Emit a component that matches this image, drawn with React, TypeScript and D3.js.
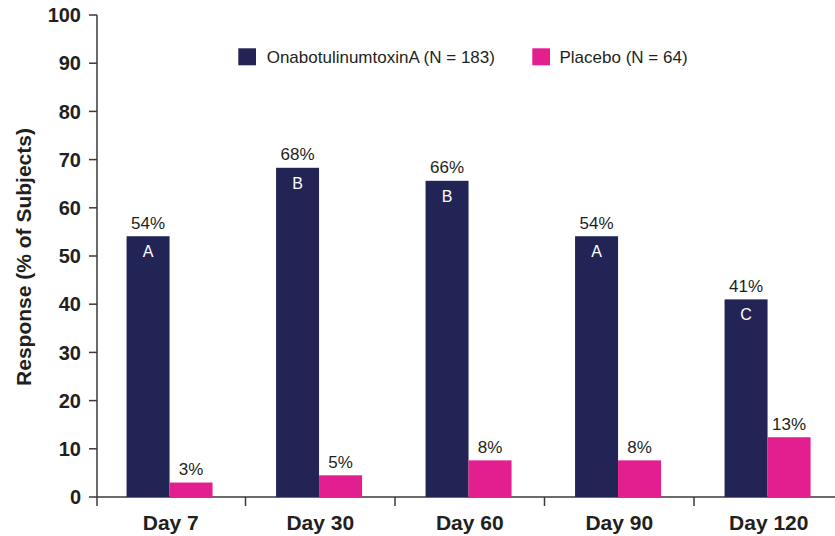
import React from "react";
import * as d3 from "d3";

const categories = ["Day 7", "Day 30", "Day 60", "Day 90", "Day 120"];
const seriesNames = ["OnabotulinumtoxinA (N = 183)", "Placebo (N = 64)"];
const onaValues = [54.1, 68.3, 65.6, 54.1, 41.0];
const placeboValues = [3.0, 4.5, 7.6, 7.6, 12.4];
const onaLabels = ["54%", "68%", "66%", "54%", "41%"];
const placeboLabels = ["3%", "5%", "8%", "8%", "13%"];
const onaLetters = ["A", "B", "B", "A", "C"];
const yTicks = [0, 10, 20, 30, 40, 50, 60, 70, 80, 90, 100];

const NAVY = "#222456";
const PINK = "#e31e8f";
const TEXT = "#231f20";
const AXIS = "#3a3a3a";
const FONT = "'Liberation Sans', Arial, Helvetica, sans-serif";

export default function App() {
  const W = 835, H = 536;
  const left = 96, right = 835, top = 15, bottom = 497;
  const step = 149.5;
  const x = d3.scaleBand<string>().domain(categories).range([left, left + step * categories.length]).paddingInner(0).paddingOuter(0);
  const y = d3.scaleLinear().domain([0, 100]).range([bottom, top]);
  const barW = 43;

  return (
    <svg width={W} height={H} style={{ position: "absolute", left: 0, top: 0 }} fontFamily={FONT}>
      {/* y axis */}
      <line x1={97} x2={97} y1={y(100)} y2={bottom + 9} stroke={AXIS} strokeWidth={1.5} />
      {yTicks.map((t) => (
        <g key={t}>
          <line x1={89} x2={97} y1={y(t)} y2={y(t)} stroke={AXIS} strokeWidth={1.5} />
          <text x={81} y={y(t)} dy="0.36em" textAnchor="end" fontSize={20} fontWeight="bold" fill={TEXT}>
            {t}
          </text>
        </g>
      ))}
      {/* x axis */}
      <line x1={97} x2={right} y1={bottom} y2={bottom} stroke={AXIS} strokeWidth={1.5} />
      {categories.map((c, i) => (
        <g key={c}>
          {i > 0 && (
            <line x1={x(c)!} x2={x(c)!} y1={bottom} y2={bottom + 9} stroke={AXIS} strokeWidth={1.5} />
          )}
          <text x={x(c)! + x.bandwidth() / 2} y={530} textAnchor="middle" fontSize={21} fontWeight="bold" fill={TEXT}>
            {c}
          </text>
        </g>
      ))}
      {/* bars */}
      {categories.map((c, i) => {
        const cx = x(c)! + x.bandwidth() / 2 - 1.2;
        const ox = cx - barW;
        const px = cx;
        return (
          <g key={"b" + c}>
            <rect x={ox} y={y(onaValues[i])} width={barW} height={bottom - y(onaValues[i])} fill={NAVY} />
            <rect x={px} y={y(placeboValues[i])} width={barW} height={bottom - y(placeboValues[i])} fill={PINK} />
            <text x={ox + barW / 2} y={y(onaValues[i]) - 7.5} textAnchor="middle" fontSize={17} fill={TEXT}>
              {onaLabels[i]}
            </text>
            <text x={ox + barW / 2} y={y(onaValues[i]) + 21} textAnchor="middle" fontSize={16} fill="#ffffff">
              {onaLetters[i]}
            </text>
            <text x={px + barW / 2} y={y(placeboValues[i]) - 7.5} textAnchor="middle" fontSize={17} fill={TEXT}>
              {placeboLabels[i]}
            </text>
          </g>
        );
      })}
      {/* legend */}
      <rect x={238.3} y={48.3} width={17.7} height={17} fill={NAVY} />
      <text x={266.7} y={63.3} fontSize={17} fill={TEXT}>{seriesNames[0]}</text>
      <rect x={532.3} y={48.3} width={17.7} height={17} fill={PINK} />
      <text x={559.5} y={63.3} fontSize={17} fill={TEXT}>{seriesNames[1]}</text>
      {/* y title */}
      <text transform={`translate(31, 257) rotate(-90)`} textAnchor="middle" fontSize={21} fontWeight="bold" fill={TEXT}>
        Response (% of Subjects)
      </text>
    </svg>
  );
}
